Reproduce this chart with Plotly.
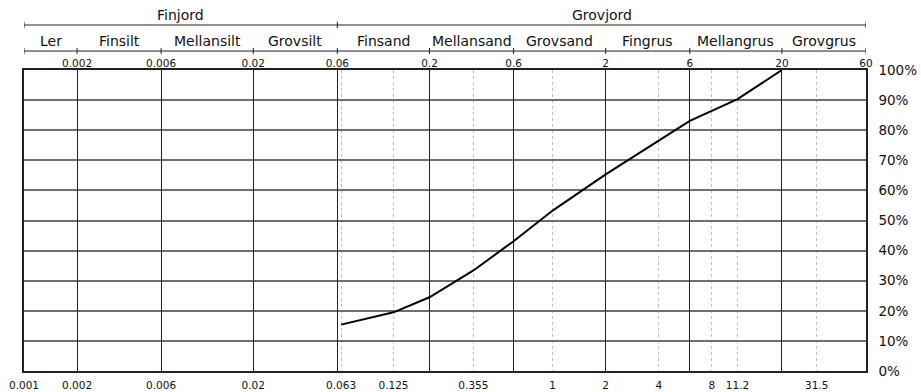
import math
import plotly.graph_objects as go

# Siktkurva: passerande mängd (%) mot kornstorlek (mm)
grain_size_mm = [0.063, 0.125, 0.2, 0.355, 0.6, 1, 2, 6, 11.2, 20]
passing_pct = [15.4, 19.5, 24.5, 33.4, 43.1, 53.3, 65.3, 83.1, 90.3, 100]

# Fraktionsgränser och namn
fraction_bounds = [0.001, 0.002, 0.006, 0.02, 0.06, 0.2, 0.6, 2, 6, 20, 60]
fraction_names = ["Ler", "Finsilt", "Mellansilt", "Grovsilt", "Finsand",
                  "Mellansand", "Grovsand", "Fingrus", "Mellangrus", "Grovgrus"]
group_bounds = [0.001, 0.06, 60]
group_names = ["Finjord", "Grovjord"]

top_tick_vals = [0.002, 0.006, 0.02, 0.06, 0.2, 0.6, 2, 6, 20, 60]
top_tick_text = ["0.002", "0.006", "0.02", "0.06", "0.2", "0.6", "2", "6", "20", "60"]

bottom_tick_vals = [0.001, 0.002, 0.006, 0.02, 0.063, 0.125, 0.355, 1, 2, 4, 8, 11.2, 31.5]
bottom_tick_text = ["0.001", "0.002", "0.006", "0.02", "0.063", "0.125", "0.355",
                    "1", "2", "4", "8", "11.2", "31.5"]

sieve_sizes = [0.063, 0.125, 0.355, 1, 4, 8, 11.2, 31.5]
pct_ticks = list(range(0, 101, 10))
pct_text = [f"{p}%" for p in pct_ticks]

FONT = "DejaVu Sans, Liberation Sans, Arial, sans-serif"
DARK = "#222222"
x_range = [math.log10(fraction_bounds[0]), math.log10(fraction_bounds[-1])]

fig = go.Figure()

fig.add_trace(go.Scatter(
    x=grain_size_mm, y=passing_pct, mode="lines",
    line=dict(color="black", width=2),
    showlegend=False, hoverinfo="x+y",
))
# keeps the top (fraction boundary) axis on the same subplot
fig.add_trace(go.Scatter(
    x=top_tick_vals, y=[None] * len(top_tick_vals), xaxis="x2",
    mode="lines", showlegend=False, hoverinfo="skip",
))

shapes = []
annotations = []
label_font = dict(size=14, color="#111", family=FONT)

# Fraction row: line with ticks at each boundary
row2_y, row2_tick = 1.063, 0.010
shapes.append(dict(type="line", xref="x", yref="paper",
                   x0=fraction_bounds[0], x1=fraction_bounds[-1], y0=row2_y, y1=row2_y,
                   line=dict(color=DARK, width=1)))
for b in fraction_bounds:
    shapes.append(dict(type="line", xref="x", yref="paper", x0=b, x1=b,
                       y0=row2_y - row2_tick, y1=row2_y + row2_tick,
                       line=dict(color=DARK, width=1)))
for i, name in enumerate(fraction_names):
    mid = (math.log10(fraction_bounds[i]) + math.log10(fraction_bounds[i + 1])) / 2
    annotations.append(dict(x=mid, y=1.098, xref="x", yref="paper", text=name,
                            xanchor="center", yanchor="middle",
                            showarrow=False, font=label_font))

# Group row: Finjord / Grovjord
row1_y, row1_tick = 1.1495, 0.011
shapes.append(dict(type="line", xref="x", yref="paper",
                   x0=group_bounds[0], x1=group_bounds[-1], y0=row1_y, y1=row1_y,
                   line=dict(color=DARK, width=1)))
for b in group_bounds:
    shapes.append(dict(type="line", xref="x", yref="paper", x0=b, x1=b,
                       y0=row1_y - row1_tick, y1=row1_y + row1_tick,
                       line=dict(color=DARK, width=1)))
for i, name in enumerate(group_names):
    mid = (math.log10(group_bounds[i]) + math.log10(group_bounds[i + 1])) / 2
    annotations.append(dict(x=mid, y=1.183, xref="x", yref="paper", text=name,
                            xanchor="center", yanchor="middle",
                            showarrow=False, font=label_font))

fig.update_layout(
    width=921, height=392,
    margin=dict(l=24, r=55, t=70, b=21),
    paper_bgcolor="white", plot_bgcolor="white",
    font=dict(family=FONT, color="#111"),
    shapes=shapes, annotations=annotations,
    xaxis=dict(
        type="log", range=x_range, automargin=False,
        tickmode="array", tickvals=bottom_tick_vals, ticktext=bottom_tick_text,
        tickfont=dict(size=10.5), ticks="", ticklabelstandoff=4, showgrid=False,
        minor=dict(tickmode="array", tickvals=sieve_sizes, showgrid=True,
                   gridcolor="#bdbdbd", griddash="dot", gridwidth=1, ticks=""),
        showline=True, linecolor=DARK, linewidth=1.5, mirror=False,
        zeroline=False,
    ),
    xaxis2=dict(
        type="log", range=x_range, overlaying="x", side="top", anchor="y",
        automargin=False,
        tickmode="array", tickvals=top_tick_vals, ticktext=top_tick_text,
        tickfont=dict(size=10.5), ticks="", ticklabelstandoff=-3, showgrid=True,
        gridcolor=DARK, gridwidth=1.2,
        showline=True, linecolor=DARK, linewidth=1.5, zeroline=False,
    ),
    yaxis=dict(
        range=[0, 100], side="right", automargin=False,
        tickmode="array", tickvals=pct_ticks, ticktext=pct_text,
        tickfont=dict(size=13.5), ticks="", ticklabelstandoff=8,
        showgrid=True, gridcolor="#6f6f6f", gridwidth=1.6,
        showline=True, linecolor=DARK, linewidth=1.5, mirror=True,
        zeroline=False,
    ),
)

fig.write_html("out.html")
